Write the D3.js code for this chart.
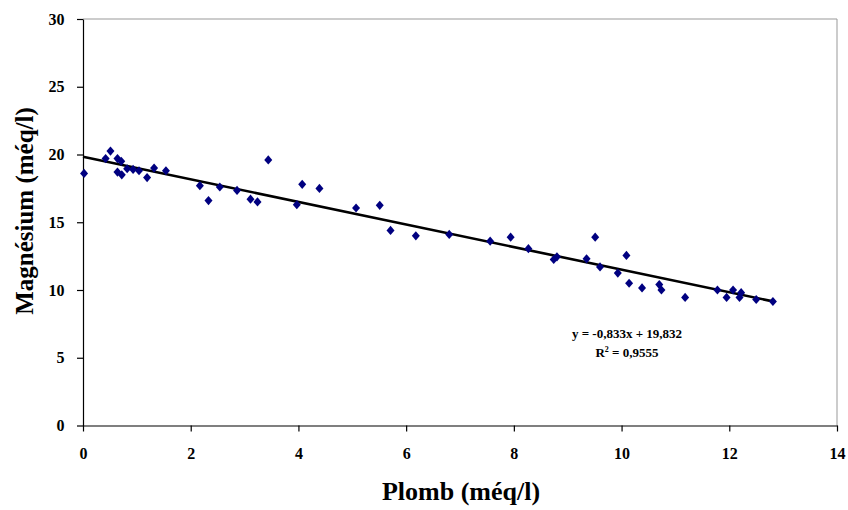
<!DOCTYPE html>
<html><head><meta charset="utf-8">
<script src="https://cdn.jsdelivr.net/npm/d3@7"></script>
<style>body{margin:0;background:#fff}svg{display:block}</style>
</head><body>
<svg id="c" width="848" height="510"></svg>
<script>
const plomb = [0.02,0.42,0.51,0.64,0.71,0.64,0.72,0.82,0.93,1.04,1.19,1.32,1.54,2.17,2.33,2.54,2.86,3.11,3.24,3.44,3.97,4.07,4.39,5.07,5.51,5.71,6.18,6.80,7.56,7.94,8.27,8.74,8.80,9.35,9.51,9.60,9.93,10.09,10.14,10.38,10.70,10.74,11.18,11.78,11.95,12.07,12.19,12.22,12.50,12.81];
const magnesium = [18.6,19.7,20.25,19.7,19.5,18.7,18.5,18.95,18.9,18.8,18.3,19.0,18.8,17.7,16.6,17.6,17.35,16.7,16.5,19.6,16.3,17.8,17.5,16.05,16.25,14.4,14.0,14.1,13.6,13.9,13.05,12.25,12.45,12.3,13.9,11.7,11.25,12.55,10.5,10.15,10.4,10.0,9.45,10.0,9.45,10.0,9.45,9.8,9.3,9.15];
const xTicks = [0,2,4,6,8,10,12,14];
const yTicks = [0,5,10,15,20,25,30];
const slope = -0.833, intercept = 19.832;
const eqLines = ["y = -0,833x + 19,832", "R² = 0,9555"];
const xTitle = "Plomb (méq/l)", yTitle = "Magnésium (méq/l)";

const svg = d3.select("#c");
const L = 83, R = 837, T = 19, B = 425.5;
const x = d3.scaleLinear().domain([0,14]).range([L,R]);
const y = d3.scaleLinear().domain([0,30]).range([B,T]);
const font = "'Liberation Serif','Times New Roman',serif";

svg.append("path").attr("d",`M${L},${T}H${R}V${B}`).attr("fill","none").attr("stroke","#999").attr("stroke-width",1);

const xa = svg.append("g").attr("transform",`translate(0,${B})`)
  .call(d3.axisBottom(x).tickValues(xTicks).tickSize(6).tickSizeOuter(0).tickFormat(d3.format("d")));
const ya = svg.append("g").attr("transform",`translate(${L},0)`)
  .call(d3.axisLeft(y).tickValues(yTicks).tickSize(6).tickSizeOuter(0).tickFormat(d3.format("d")));
[xa,ya].forEach(a=>{
  a.selectAll("path,line").attr("stroke","#000").attr("stroke-width",1.2);
  a.selectAll("text").attr("font-family",font).attr("font-weight","bold").attr("font-size",16).attr("fill","#000");
});
xa.selectAll("text").attr("dy","1.5em");
ya.selectAll("text").attr("dx","-0.6em").attr("dy","0.32em");

const x0 = 0, x1 = d3.max(plomb);
svg.append("line").attr("x1",x(x0)).attr("y1",y(slope*x0+intercept))
  .attr("x2",x(x1)).attr("y2",y(slope*x1+intercept))
  .attr("stroke","#000").attr("stroke-width",2.6);

const diamond = {draw(ctx){ ctx.moveTo(0,-4.6); ctx.lineTo(4,0); ctx.lineTo(0,4.6); ctx.lineTo(-4,0); ctx.closePath(); }};
const sym = d3.symbol().type(diamond);
svg.append("g").selectAll("path").data(plomb.map((p,i)=>[p,magnesium[i]])).join("path")
  .attr("d",sym).attr("transform",d=>`translate(${x(d[0])},${y(d[1])})`)
  .attr("fill","#000080");

svg.append("text").attr("x",627).attr("y",338).attr("text-anchor","middle")
  .attr("font-family",font).attr("font-weight","bold").attr("font-size",13).text(eqLines[0]);
const r2 = svg.append("text").attr("x",627).attr("y",357).attr("text-anchor","middle")
  .attr("font-family",font).attr("font-weight","bold").attr("font-size",13);
r2.append("tspan").text("R");
r2.append("tspan").attr("font-size",8).attr("dy",-5).text("2");
r2.append("tspan").attr("dy",5).text(" = 0,9555");

svg.append("text").attr("x",461).attr("y",500).attr("text-anchor","middle")
  .attr("font-family",font).attr("font-weight","bold").attr("font-size",26).text(xTitle);
svg.append("text").attr("transform","translate(33,211) rotate(-90)").attr("text-anchor","middle")
  .attr("font-family",font).attr("font-weight","bold").attr("font-size",25).text(yTitle);
</script>
</body></html>
